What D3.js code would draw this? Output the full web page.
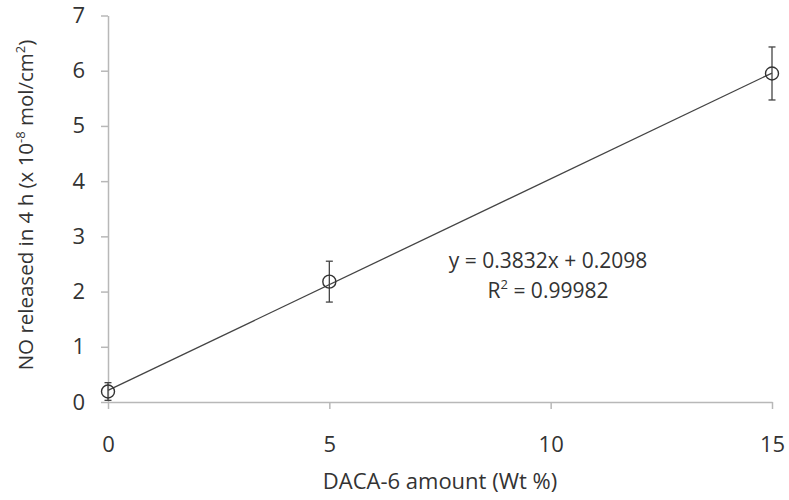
<!DOCTYPE html>
<html>
<head>
<meta charset="utf-8">
<script src="https://cdn.jsdelivr.net/npm/d3@7"></script>
<style>
  body { margin: 0; background: #fff; }
  svg { display: block; }
  text { font-family: "Open Sans", sans-serif; fill: #333; }
</style>
</head>
<body>
<div id="chart"></div>
<script>
// measured points (Wt %, NO released)
const amounts = [0, 5, 15];
const released = [0.19, 2.18, 5.95];
const errors = [0.16, 0.37, 0.48];

const xTicks = [0, 5, 10, 15];
const yTicks = [0, 1, 2, 3, 4, 5, 6, 7];

// linear trendline from the chart
const slope = 0.3832;
const intercept = 0.2098;
const rSquared = '0.99982';

const width = 789;
const height = 500;
const margin = { top: 15.5, right: 17, bottom: 98, left: 108 };

const svg = d3.select('#chart')
  .append('svg')
  .attr('width', width)
  .attr('height', height);

const x = d3.scaleLinear()
  .domain([0, 15])
  .range([margin.left, width - margin.right]);

const y = d3.scaleLinear()
  .domain([0, 7])
  .range([height - margin.bottom, margin.top]);

const axisColor = '#b8b8b8';

// x axis
const xAxis = svg.append('g')
  .attr('transform', `translate(0, ${y(0)})`)
  .call(d3.axisBottom(x).tickValues(xTicks).tickFormat(d3.format('d'))
    .tickSize(7).tickPadding(27).tickSizeOuter(0));

// y axis
const yAxis = svg.append('g')
  .attr('transform', `translate(${x(0)}, 0)`)
  .call(d3.axisLeft(y).tickValues(yTicks).tickFormat(d3.format('d'))
    .tickSize(7).tickPadding(16).tickSizeOuter(0));

[xAxis, yAxis].forEach(ax => {
  ax.select('.domain').attr('stroke', axisColor).attr('stroke-width', 1.5);
  ax.selectAll('.tick line').attr('stroke', axisColor).attr('stroke-width', 1.5);
  ax.selectAll('.tick text')
    .style('font-family', '"Open Sans", sans-serif')
    .style('font-size', '22px')
    .attr('fill', '#333');
});

// trendline
svg.append('line')
  .attr('x1', x(0))
  .attr('y1', y(intercept))
  .attr('x2', x(15))
  .attr('y2', y(slope * 15 + intercept))
  .attr('stroke', '#444')
  .attr('stroke-width', 1.3);

const points = amounts.map((a, i) => ({ a: a, v: released[i], e: errors[i] }));

// error bars
const bars = svg.selectAll('.err')
  .data(points)
  .enter()
  .append('g')
  .attr('class', 'err')
  .attr('stroke', '#444')
  .attr('stroke-width', 1.3);

bars.append('line')
  .attr('x1', d => x(d.a))
  .attr('x2', d => x(d.a))
  .attr('y1', d => y(d.v + d.e))
  .attr('y2', d => y(d.v - d.e));

bars.append('line')
  .attr('x1', d => x(d.a) - 3.5)
  .attr('x2', d => x(d.a) + 3.5)
  .attr('y1', d => y(d.v + d.e))
  .attr('y2', d => y(d.v + d.e));

bars.append('line')
  .attr('x1', d => x(d.a) - 3.5)
  .attr('x2', d => x(d.a) + 3.5)
  .attr('y1', d => y(d.v - d.e))
  .attr('y2', d => y(d.v - d.e));

// markers
svg.selectAll('.pt')
  .data(points)
  .enter()
  .append('circle')
  .attr('class', 'pt')
  .attr('cx', d => x(d.a))
  .attr('cy', d => y(d.v))
  .attr('r', 6.5)
  .attr('fill', 'none')
  .attr('stroke', '#333')
  .attr('stroke-width', 1.4);

// trendline label
svg.append('text')
  .attr('x', 548)
  .attr('y', 268)
  .attr('text-anchor', 'middle')
  .style('font-size', '21px')
  .text(`y = ${slope}x + ${intercept}`);

const r2 = svg.append('text')
  .attr('x', 548)
  .attr('y', 298)
  .attr('text-anchor', 'middle')
  .style('font-size', '21px');
r2.append('tspan').text('R');
r2.append('tspan').attr('dy', -9).style('font-size', '13px').text('2');
r2.append('tspan').attr('dy', 9).text(` = ${rSquared}`);

// axis titles
svg.append('text')
  .attr('x', (x(0) + x(15)) / 2)
  .attr('y', 489)
  .attr('text-anchor', 'middle')
  .style('font-size', '22px')
  .text('DACA-6 amount (Wt %)');

const yTitle = svg.append('text')
  .attr('transform', 'translate(33, 205) rotate(-90)')
  .attr('text-anchor', 'middle')
  .style('font-size', '20.5px');
yTitle.append('tspan').text('NO released in 4 h (x 10');
yTitle.append('tspan').attr('dy', -8).style('font-size', '13px').text('-8');
yTitle.append('tspan').attr('dy', 8).text(' mol/cm');
yTitle.append('tspan').attr('dy', -8).style('font-size', '13px').text('2');
yTitle.append('tspan').attr('dy', 8).text(')');
</script>
</body>
</html>
